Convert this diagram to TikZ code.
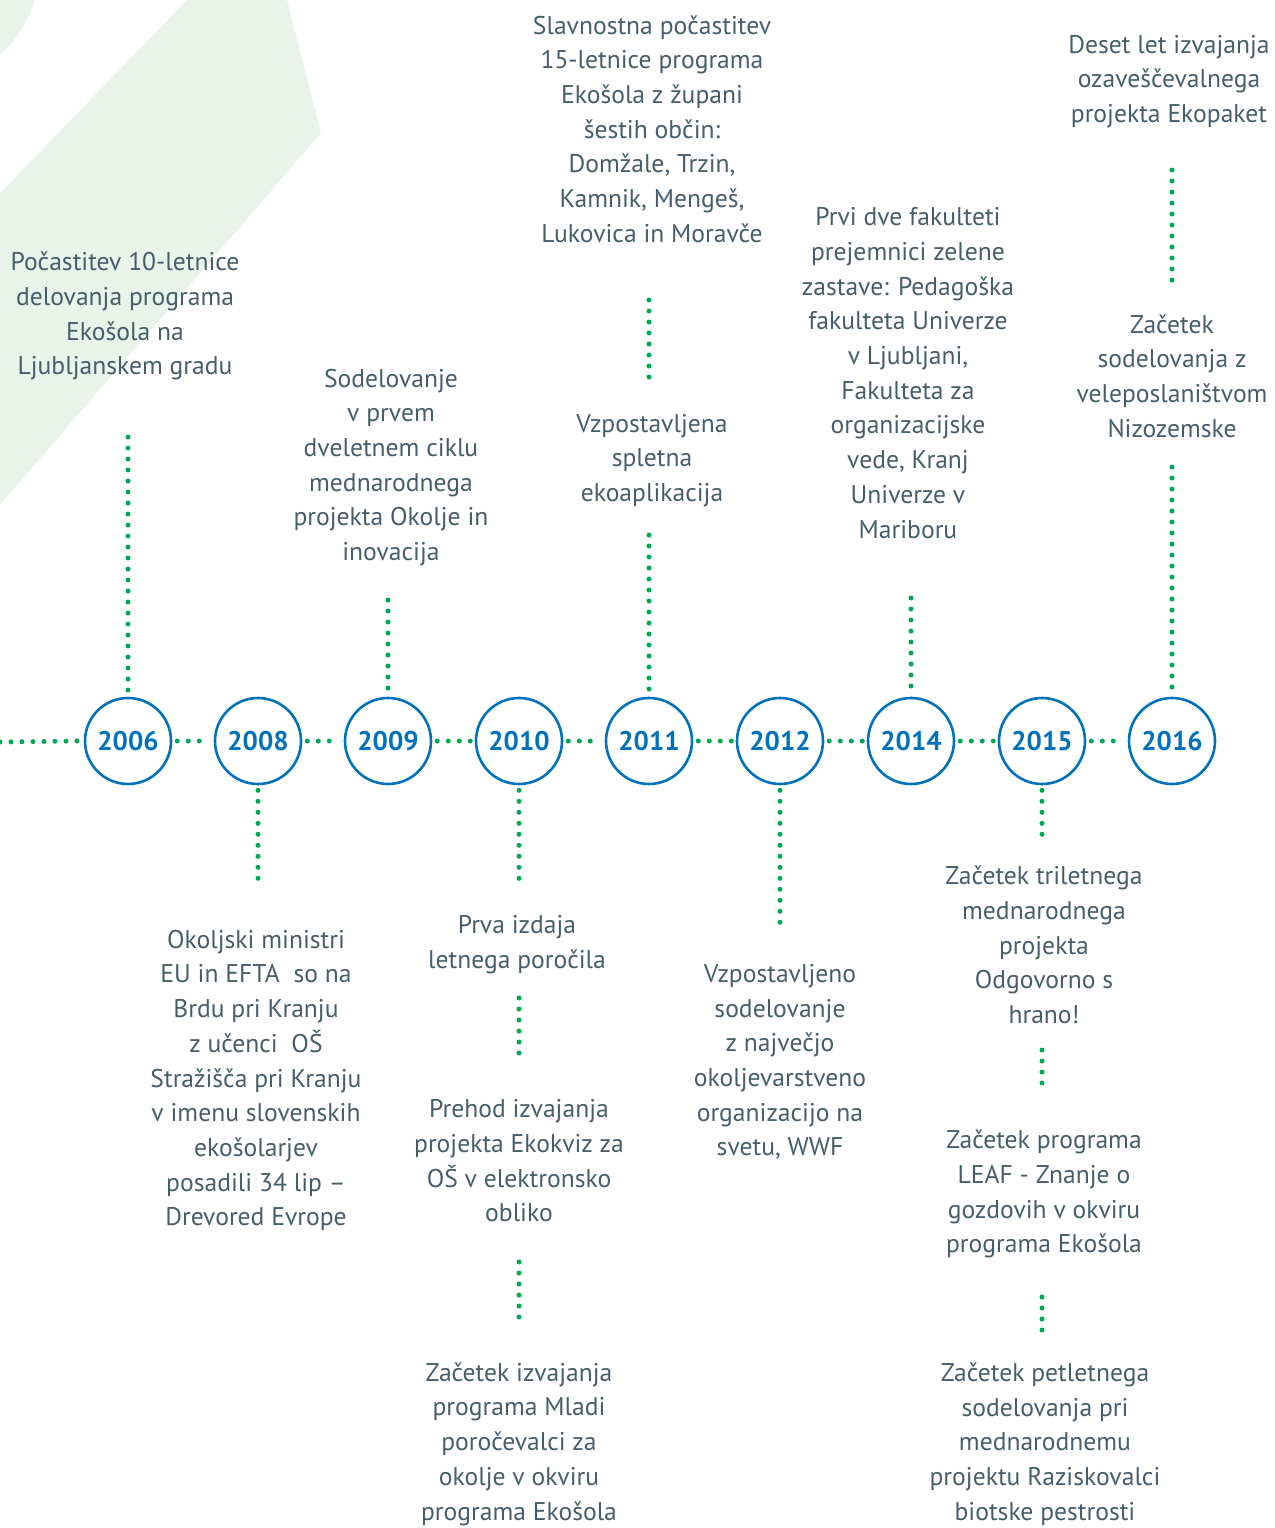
\documentclass[tikz,border=0pt]{standalone}
\usepackage{fontspec}
\setmainfont{PT Sans}
\definecolor{txt}{RGB}{70,94,106}
\definecolor{yblue}{RGB}{0,114,188}
\definecolor{dgreen}{RGB}{0,168,84}
\definecolor{bgreen}{RGB}{232,243,234}
\tikzset{
  lbl/.style={align=center, text=txt, font=\fontsize{25.6}{34.7}\selectfont, inner sep=0pt},
  yr/.style={circle, draw=yblue, line width=2.6pt, minimum size=86pt, inner sep=0pt, text=yblue, font=\fontsize{27}{30}\selectfont\bfseries},
  dots/.style={draw=dgreen, line width=5pt, line cap=round, dash pattern=on 0pt off 11pt}
}
\begin{document}
\begin{tikzpicture}[x=1pt,y=-1pt]
\useasboundingbox (0,0) rectangle (1274,1528);
% background shapes
\fill[bgreen] (187,0) -- (287,0) -- (321,133) -- (0,505) -- (0,193) -- cycle;
\fill[bgreen] (0,0) -- (35,0) .. controls (28,22) and (15,42) .. (0,55) -- cycle;

% year circles
\node[yr] (y2006) at (128,741) {2006};
\node[yr] (y2008) at (258,741) {2008};
\node[yr] (y2009) at (388,741) {2009};
\node[yr] (y2010) at (519,741) {2010};
\node[yr] (y2011) at (649,741) {2011};
\node[yr] (y2012) at (780,741) {2012};
\node[yr] (y2014) at (911,741) {2014};
\node[yr] (y2015) at (1042,741) {2015};
\node[yr] (y2016) at (1172,741) {2016};

% texts above
\node[lbl] (t2006) at (125,316) {Počastitev 10-letnice\\delovanja programa\\Ekošola na\\Ljubljanskem gradu};
\node[lbl] (t2009) at (391,467.5) {Sodelovanje\\v prvem\\dveletnem ciklu\\mednarodnega\\projekta Okolje in\\inovacija};
\node[lbl] (t2011a) at (652,129) {Slavnostna počastitev\\15-letnice programa\\Ekošola z župani\\šestih občin:\\Domžale, Trzin,\\Kamnik, Mengeš,\\Lukovica in Moravče};
\node[lbl] (t2011b) at (652,460.5) {Vzpostavljena\\spletna\\ekoaplikacija};
\node[lbl] (t2014) at (908,373) {Prvi dve fakulteti\\prejemnici zelene\\zastave: Pedagoška\\fakulteta Univerze\\v Ljubljani,\\Fakulteta za\\organizacijske\\vede, Kranj\\Univerze v\\Mariboru};
\node[lbl] (t2016a) at (1169,81.5) {Deset let izvajanja\\ozaveščevalnega\\projekta Ekopaket};
\node[lbl] (t2016b) at (1172,376) {Začetek\\sodelovanja z\\veleposlaništvom\\Nizozemske};

% texts below
\node[lbl] (t2008) at (256,1080.5) {Okoljski ministri\\EU in EFTA\ \ so na\\Brdu pri Kranju\\z učenci\ \ OŠ\\Stražišča pri Kranju\\v imenu slovenskih\\ekošolarjev\\posadili 34 lip –\\Drevored Evrope};
\node[lbl] (t2010a) at (517,944.5) {Prva izdaja\\letnega poročila};
\node[lbl] (t2010b) at (519,1161) {Prehod izvajanja\\projekta Ekokviz za\\OŠ v elektronsko\\obliko};
\node[lbl] (t2010c) at (519,1444) {Začetek izvajanja\\programa Mladi\\poročevalci za\\okolje v okviru\\programa Ekošola};
\node[lbl] (t2012) at (780,1062) {Vzpostavljeno\\sodelovanje\\z največjo\\okoljevarstveno\\organizacijo na\\svetu, WWF};
\node[lbl] (t2015a) at (1044,945) {Začetek triletnega\\mednarodnega\\projekta\\Odgovorno s\\hrano!};
\node[lbl] (t2015b) at (1044,1194) {Začetek programa\\LEAF - Znanje o\\gozdovih v okviru\\programa Ekošola};
\node[lbl] (t2015c) at (1045,1444) {Začetek petletnega\\sodelovanja pri\\mednarodnemu\\projektu Raziskovalci\\biotske pestrosti};

% dot end coordinates
\coordinate (hl) at (0,742);
\coordinate (e2006) at (128,437);
\coordinate (e2009) at (388,600);
\coordinate (e2011) at (649,535);
\coordinate (a2011) at (649,300);
\coordinate (b2011) at (649,388);
\coordinate (e2014) at (911,598);
\coordinate (e2016) at (1172,467);
\coordinate (a2016) at (1172,170);
\coordinate (b2016) at (1172,283);
\coordinate (e2008) at (258,888);
\coordinate (e2010) at (519,888);
\coordinate (a2010) at (519,998);
\coordinate (b2010) at (519,1056);
\coordinate (c2010) at (519,1262);
\coordinate (d2010) at (519,1320);
\coordinate (e2012) at (780,932);
\coordinate (e2015) at (1042,835);
\coordinate (a2015) at (1042,1050);
\coordinate (b2015) at (1042,1088);
\coordinate (c2015) at (1042,1297);
\coordinate (d2015) at (1042,1335);

% horizontal timeline
\draw[dots] (hl) -- ([xshift=-6pt]y2006.west);
\draw[dots,shorten <=5pt,shorten >=4pt] (y2006.east) -- (y2008.west);
\draw[dots,shorten <=5pt,shorten >=4pt] (y2008.east) -- (y2009.west);
\draw[dots,shorten <=5pt,shorten >=4pt] (y2009.east) -- (y2010.west);
\draw[dots,shorten <=5pt,shorten >=4pt] (y2010.east) -- (y2011.west);
\draw[dots,shorten <=5pt,shorten >=4pt] (y2011.east) -- (y2012.west);
\draw[dots,shorten <=5pt,shorten >=4pt] (y2012.east) -- (y2014.west);
\draw[dots,shorten <=5pt,shorten >=4pt] (y2014.east) -- (y2015.west);
\draw[dots,shorten <=5pt,shorten >=4pt] (y2015.east) -- (y2016.west);

% vertical connectors up
\draw[dots] (e2006) -- ([yshift=4pt]y2006.north);
\draw[dots] (e2009) -- ([yshift=4pt]y2009.north);
\draw[dots] (e2011) -- ([yshift=4pt]y2011.north);
\draw[dots] (a2011) -- (b2011);
\draw[dots] (e2014) -- ([yshift=4pt]y2014.north);
\draw[dots] (e2016) -- ([yshift=4pt]y2016.north);
\draw[dots] (a2016) -- (b2016);

% vertical connectors down
\draw[dots] ([yshift=-5pt]y2008.south) -- (e2008);
\draw[dots] ([yshift=-5pt]y2010.south) -- (e2010);
\draw[dots] (a2010) -- (b2010);
\draw[dots] (c2010) -- (d2010);
\draw[dots] ([yshift=-5pt]y2012.south) -- (e2012);
\draw[dots] ([yshift=-5pt]y2015.south) -- (e2015);
\draw[dots] (a2015) -- (b2015);
\draw[dots] (c2015) -- (d2015);
\end{tikzpicture}
\end{document}
